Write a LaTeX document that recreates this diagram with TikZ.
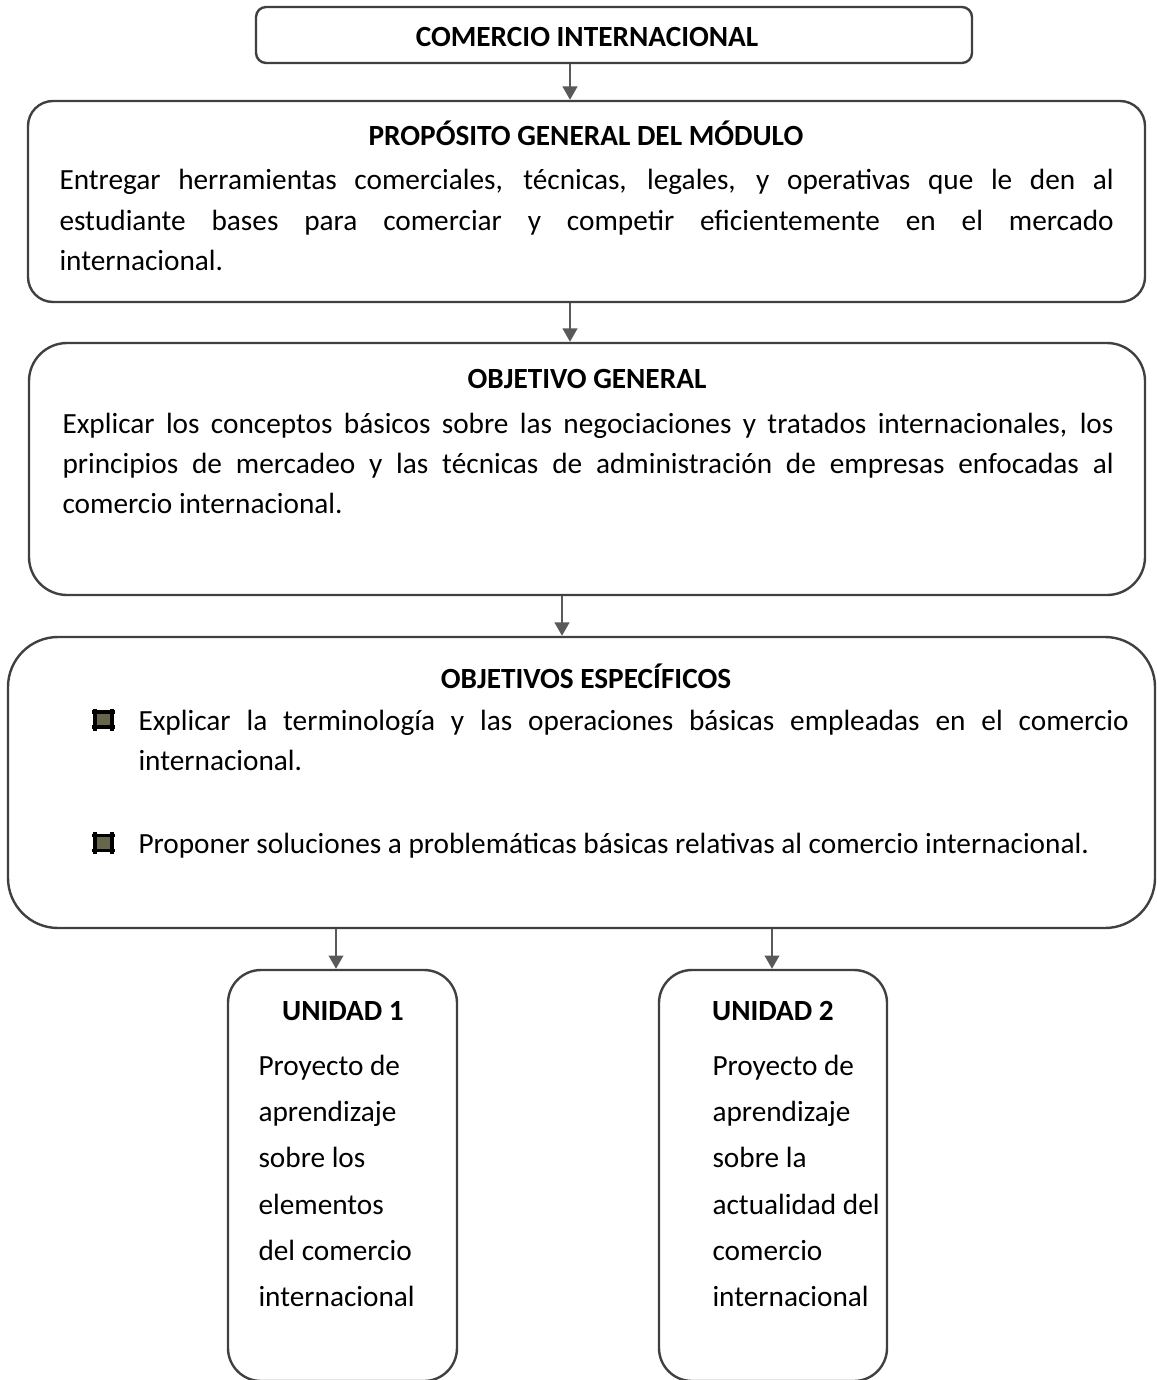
\documentclass[tikz,border=0pt]{standalone}
\usepackage{fontspec}
\setmainfont{Carlito}
\usepackage{tikz}
\usetikzlibrary{fit,arrows.meta}
\definecolor{boxgray}{HTML}{404040}
\definecolor{arrgray}{HTML}{595959}
\definecolor{bulolive}{HTML}{66664C}
\tikzset{
  box/.style={draw=boxgray, line width=0.9pt, rounded corners=#1, inner sep=0pt},
  arr/.style={draw=arrgray, line width=0.75pt, -{Triangle[length=5pt,width=5.5pt]}},
  ttl/.style={font=\fontsize{11}{13.4}\selectfont\bfseries, inner sep=0pt, anchor=base},
  txt/.style={font=\fontsize{11}{15.03}\selectfont, inner sep=0pt, anchor=base west, align=justify},
  unit/.style={font=\fontsize{11}{17.43}\selectfont, inner sep=0pt, anchor=base west,
    text width=75pt, align=flush left},
  hashbul/.pic={
    \fill[bulolive] (-8.5,-7.5) rectangle (8.5,7.5);
    \draw[line width=1.2pt] (-8.5,-11) -- (-8.5,11) (8.5,-11) -- (8.5,11)
      (-11.5,-7.5) -- (11.5,-7.5) (-11.5,7.5) -- (11.5,7.5);
  }
}

\begin{document}
\begin{tikzpicture}[x=0.3757pt,y=-0.3757pt]
\useasboundingbox (0,0) rectangle (1157,1380);

\node[box=3.8pt, fit={(256,7) (972,63)}] (comercio) {};
\node[ttl] (comercio-t) at (587,47) {COMERCIO INTERNACIONAL};

\node[box=9.4pt, fit={(28,101) (1145,302)}] (proposito) {};
\node[ttl] (proposito-t) at (586,146) {PROPÓSITO GENERAL DEL MÓDULO};
\node[txt, text width=396pt] (proposito-b) at (59,190)
  {Entregar herramientas comerciales, técnicas, legales, y operativas que le den al\linebreak
   estudiante bases para comerciar y competir eficientemente en el mercado\linebreak
   internacional.};

\node[box=14.3pt, fit={(29,343) (1145,595)}] (objgen) {};
\node[ttl] (objgen-t) at (587,388) {OBJETIVO GENERAL};
\node[txt, text width=394.9pt] (objgen-b) at (62,433)
  {Explicar los conceptos básicos sobre las negociaciones y tratados internacionales, los\linebreak
   principios de mercadeo y las técnicas de administración de empresas enfocadas al\linebreak
   comercio internacional.};

\node[box=18.8pt, fit={(8,637) (1155,928)}] (objesp) {};
\node[ttl] (objesp-t) at (586,688) {OBJETIVOS ESPECÍFICOS};
\pic at (103.5,719.5) {hashbul};
\node[txt, text width=372pt] (objesp-b1) at (138,730)
  {Explicar la terminología y las operaciones básicas empleadas en el comercio\linebreak
   internacional.};
\pic at (103.5,843) {hashbul};
\node[txt, align=left] (objesp-b2) at (138,853)
  {Proponer soluciones a problemáticas básicas relativas al comercio internacional.};

\node[box=12.4pt, fit={(228,970) (457,1381)}] (unidad1) {};
\node[ttl] (unidad1-t) at (343,1020) {UNIDAD 1};
\node[unit] (unidad1-b) at (258,1075)
  {Proyecto de\\aprendizaje\\sobre los\\elementos\\del comercio\\internacional};

\node[box=12.4pt, fit={(659,970) (887,1381)}] (unidad2) {};
\node[ttl] (unidad2-t) at (773,1020) {UNIDAD 2};
\node[unit] (unidad2-b) at (712,1075)
  {Proyecto de\\aprendizaje\\sobre la\\actualidad del\\comercio\\internacional};

\coordinate (a1) at (570,0);
\coordinate (a2) at (570,0);
\coordinate (a3) at (562,0);
\coordinate (a4) at (336,0);
\coordinate (a5) at (772,0);
\draw[arr] (comercio.south -| a1) -- (proposito.north -| a1);
\draw[arr] (proposito.south -| a2) -- (objgen.north -| a2);
\draw[arr] (objgen.south -| a3) -- (objesp.north -| a3);
\draw[arr] (objesp.south -| a4) -- (unidad1.north -| a4);
\draw[arr] (objesp.south -| a5) -- (unidad2.north -| a5);
\end{tikzpicture}
\end{document}
